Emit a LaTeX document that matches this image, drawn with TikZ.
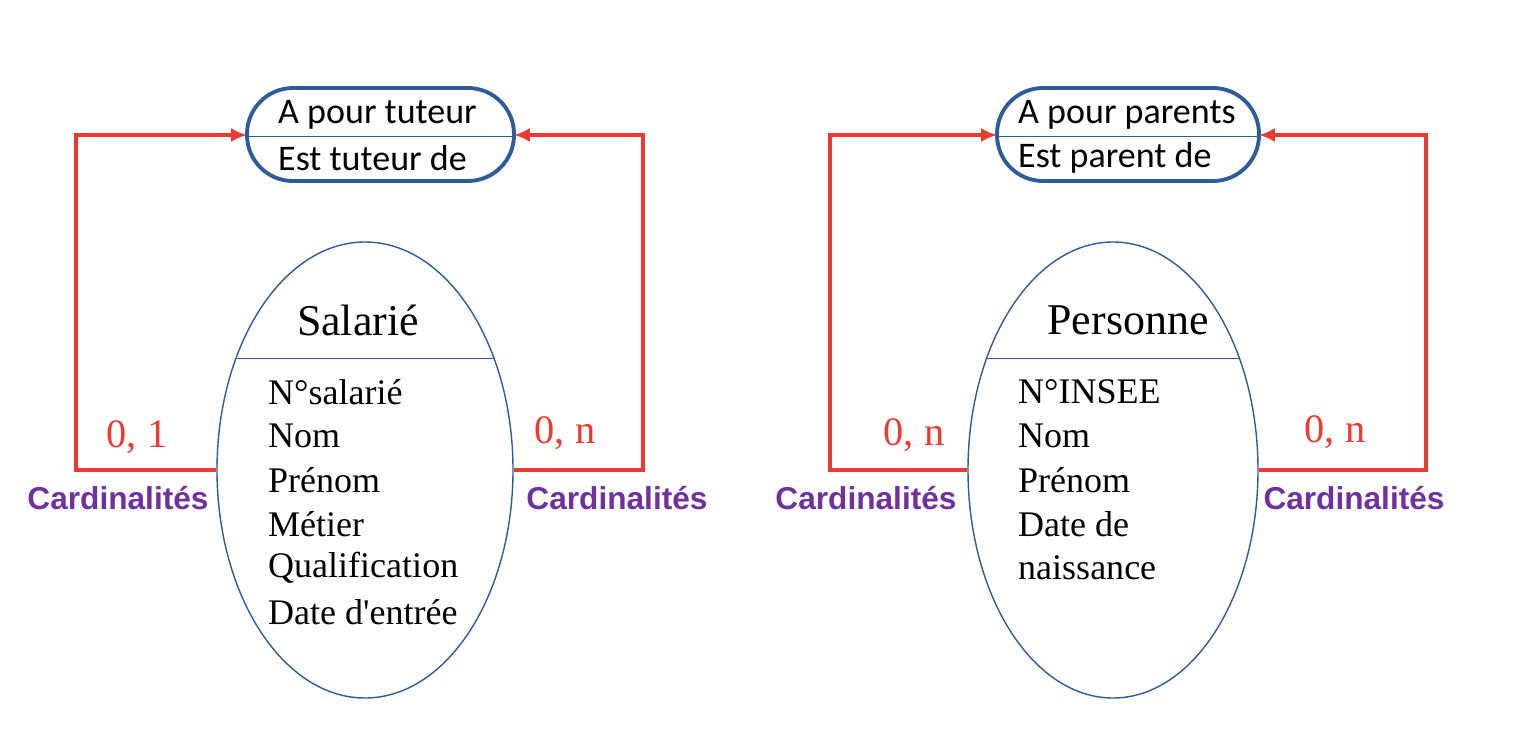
\documentclass[tikz,border=0pt]{standalone}
\usepackage{fontspec}
\setmainfont{Liberation Serif}
\newfontfamily\boxfont{Carlito}
\newfontfamily\cardfont{Liberation Sans}
\usetikzlibrary{shapes.geometric}
\definecolor{entblue}{HTML}{2E5C9A}
\definecolor{linkred}{HTML}{EE3A2E}
\definecolor{cardpurple}{HTML}{7030A0}
\tikzset{
  entity/.style={ellipse, draw=entblue, thick, minimum width=296\pxu, minimum height=456\pxu},
  assoc/.style={rounded corners=46\pxu, draw=entblue, line width=2.2pt, minimum width=267\pxu, minimum height=93\pxu},
  link/.style={linkred, line width=1.8pt, -{Latex[length=9pt,width=8pt]}},
  card/.style={linkred, font=\fontsize{23}{26}\selectfont},
  cardtxt/.style={cardpurple, font=\cardfont\bfseries\fontsize{18}{21}\selectfont},
  attr/.style={anchor=west, font=\fontsize{20.5}{24}\selectfont},
  assoctxt/.style={anchor=west, font=\boxfont\fontsize{20.5}{23}\selectfont}
}
\def\pxu{*0.02cm}
\usetikzlibrary{arrows.meta}
\begin{document}
\begin{tikzpicture}[x=0.02cm, y=-0.02cm]
\useasboundingbox (0,0) rectangle (1532,744);

 %salarie
 \node[entity] (sal) at (365,470) {};
 \draw[entblue, very thin] (237,358) -- (495,358);
 \node[font=\fontsize{25}{28}\selectfont] (salname) at (358,320) {Salarié};
    \foreach \i/\txt in {0/N°salarié,1/Nom,2/Prénom,3/Métier,4/Qualification,5/Date d\textquotesingle entrée}{
         \node[attr] (sa\i) at (262,392+\i*44) {\txt};
    }
 \node[assoc] (tut) at (380.5,134.5) {};
 \draw[entblue, very thin] (249,136) -- (512,136);
 \node[assoctxt] (tut1) at (272,115) {A pour tuteur};
 \node[assoctxt] (tut2) at (272,158) {Est tuteur de};

 \coordinate (tutL) at (247,135);
 \coordinate (tutR) at (514,135);
 \draw[link] (sal.west) -- (76,470) -- (76,135) -- (tutL);
 \draw[link] (sal.east) -- (643,470) -- (643,135) -- (tutR);
 \node[card] (c1) at (137,437) {0, 1};
 \node[card] (c2) at (565,433) {0, n};
 \node[cardtxt] (k1) at (118,498) {Cardinalités};
 \node[cardtxt] (k2) at (617,498) {Cardinalités};

 %personne
 \node[entity, minimum width=290\pxu] (per) at (1113,470) {};
 \draw[entblue, very thin] (986,358) -- (1240,358);
 \node[font=\fontsize{25}{28}\selectfont] (pername) at (1128,320) {Personne};
    \foreach \i/\txt in {0/N°INSEE,1/Nom,2/Prénom,3/Date de,4/naissance}{
         \node[attr] (pa\i) at (1012,392+\i*44) {\txt};
    }
 \node[assoc, minimum width=262\pxu] (par) at (1128,134.5) {};
 \draw[entblue, very thin] (999,136) -- (1257,136);
 \node[assoctxt] (par1) at (1012,115) {A pour parents};
 \node[assoctxt] (par2) at (1012,158) {Est parent de};

 \coordinate (parL) at (997,135);
 \coordinate (parR) at (1259,135);
 \draw[link] (per.west) -- (830,470) -- (830,135) -- (parL);
 \draw[link] (per.east) -- (1426,470) -- (1426,135) -- (parR);
 \node[card] (c3) at (914,435) {0, n};
 \node[card] (c4) at (1335,432) {0, n};
 \node[cardtxt] (k3) at (866,498) {Cardinalités};
 \node[cardtxt] (k4) at (1354,498) {Cardinalités};

\end{tikzpicture}
\end{document}
